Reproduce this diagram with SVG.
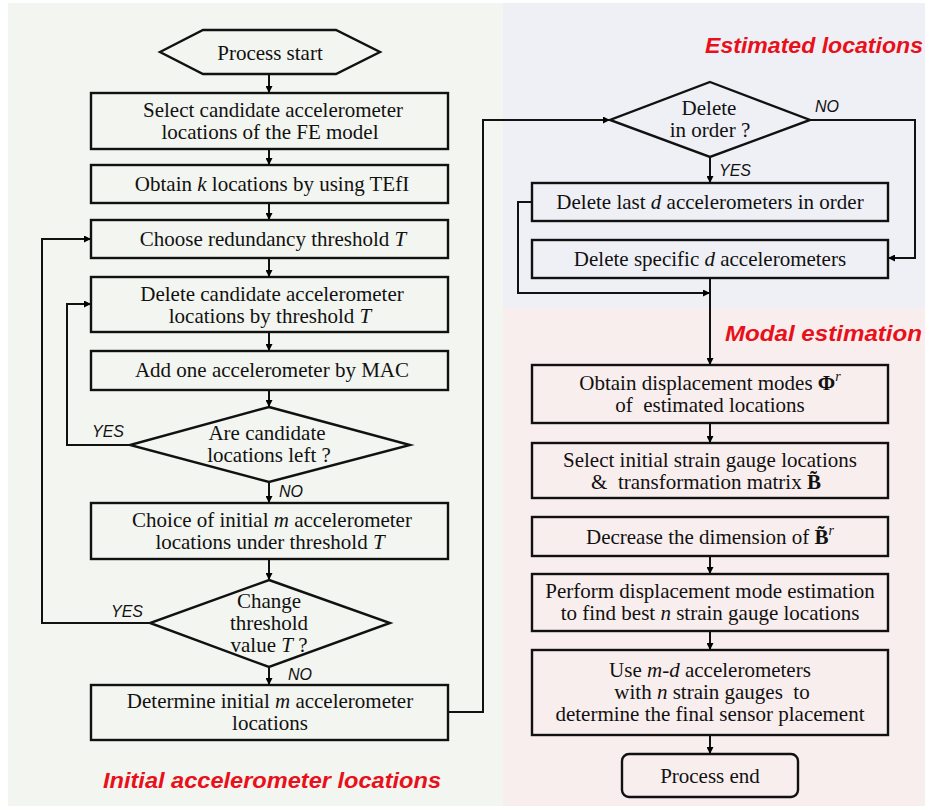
<svg xmlns="http://www.w3.org/2000/svg" width="928" height="809" viewBox="0 0 928 809">
<defs>
<marker id="ah" viewBox="0 0 10 10" refX="10" refY="5" markerWidth="7" markerHeight="7" markerUnits="userSpaceOnUse" orient="auto">
<path d="M0,0 L10,5 L0,10 z" fill="#000"/>
</marker>
<style>
.box{fill:none;stroke:#111;stroke-width:2.4}
.t{font-family:"Liberation Serif","Times New Roman",serif;font-size:21px;fill:#111;text-anchor:middle}
.i{font-style:italic}
.b{font-weight:bold}
.lab{font-family:"Liberation Sans",Arial,sans-serif;font-size:16px;font-style:italic;fill:#111}
.red{font-family:"Liberation Sans",Arial,sans-serif;font-size:22px;font-style:italic;font-weight:bold;fill:#e8101a}
.c{fill:none;stroke:#111;stroke-width:2;marker-end:url(#ah)}
</style>
</defs>
<rect width="928" height="809" fill="#ffffff"/>
<rect x="8" y="3" width="495" height="803" fill="#f3f5f0"/>
<rect x="503" y="3" width="422" height="305" fill="#eef0f6"/>
<rect x="503" y="308" width="422" height="498" fill="#f9eeee"/>

<g id="connectors">
<path class="c" d="M269,74 V93"/>
<path class="c" d="M269,149 V165"/>
<path class="c" d="M269,203 V220"/>
<path class="c" d="M269,258 V277"/>
<path class="c" d="M269,332 V351"/>
<path class="c" d="M269,390 V407"/>
<path class="c" d="M269,482 V503"/>
<path class="c" d="M269,559 V580"/>
<path class="c" d="M269,667 V685"/>
<path class="c" d="M130,445 H67 V304 H91"/>
<path class="c" d="M150,623 H42 V239 H91"/>
<path class="c" d="M448,712 H483 V120 H610"/>
<path class="c" d="M810,120 H915 V258 H888"/>
<path class="c" d="M710,157 V183"/>
<path class="c" d="M532,202 H518 V293 H710"/>
<path class="c" d="M710,278 V365"/>
<path class="c" d="M710,423 V443"/>
<path class="c" d="M710,556 V574"/>
<path class="c" d="M710,631 V650"/>
<path class="c" d="M710,735 V754"/>
<text class="lab" x="92" y="437">YES</text>
<text class="lab" x="279" y="497">NO</text>
<text class="lab" x="111" y="617">YES</text>
<text class="lab" x="288" y="680">NO</text>
<text class="lab" x="815" y="112">NO</text>
<text class="lab" x="719" y="176">YES</text>
</g>

<g id="start">
<polygon class="box" points="160,52 203,30 336,30 380,52 336,74 203,74"/>
<text class="t" x="270" y="60">Process start</text>
</g>
<g id="select-candidates">
<rect class="box" x="91" y="93" width="357" height="56"/>
<text class="t" x="273" y="117">Select candidate accelerometer</text>
<text class="t" x="270" y="139">locations of the FE model</text>
</g>
<g id="obtain-k">
<rect class="box" x="91" y="165" width="357" height="38"/>
<text class="t" x="272" y="191">Obtain <tspan class="i">k</tspan> locations by using TEfI</text>
</g>
<g id="choose-threshold">
<rect class="box" x="91" y="220" width="357" height="38"/>
<text class="t" x="273" y="246">Choose redundancy threshold <tspan class="i">T</tspan></text>
</g>
<g id="delete-candidates">
<rect class="box" x="91" y="277" width="357" height="55"/>
<text class="t" x="272" y="301">Delete candidate accelerometer</text>
<text class="t" x="270" y="323">locations by threshold <tspan class="i">T</tspan></text>
</g>
<g id="add-mac">
<rect class="box" x="91" y="351" width="357" height="39"/>
<text class="t" x="272" y="377">Add one accelerometer by MAC</text>
</g>
<g id="candidates-left">
<polygon class="box" points="269,407 410,445 269,482 130,445"/>
<text class="t" x="267" y="440">Are candidate</text>
<text class="t" x="269" y="462">locations left ?</text>
</g>
<g id="choice-initial">
<rect class="box" x="91" y="503" width="357" height="56"/>
<text class="t" x="272" y="527">Choice of initial <tspan class="i">m</tspan> accelerometer</text>
<text class="t" x="270" y="549">locations under threshold <tspan class="i">T</tspan></text>
</g>
<g id="change-threshold">
<polygon class="box" points="269,580 390,623 269,667 150,623"/>
<text class="t" x="269" y="608">Change</text>
<text class="t" x="269" y="630">threshold</text>
<text class="t" x="269" y="652">value <tspan class="i">T</tspan> ?</text>
</g>
<g id="determine-initial">
<rect class="box" x="91" y="685" width="357" height="55"/>
<text class="t" x="270" y="708">Determine initial <tspan class="i">m</tspan> accelerometer</text>
<text class="t" x="270" y="730">locations</text>
</g>
<text class="red" x="103" y="788" textLength="338" lengthAdjust="spacingAndGlyphs">Initial accelerometer locations</text>

<text class="red" x="705" y="53" textLength="218" lengthAdjust="spacingAndGlyphs">Estimated locations</text>
<g id="delete-in-order">
<polygon class="box" points="710,82 810,120 710,157 610,120"/>
<text class="t" x="709" y="115">Delete</text>
<text class="t" x="710" y="137">in order ?</text>
</g>
<g id="delete-last">
<rect class="box" x="532" y="183" width="356" height="38"/>
<text class="t" x="710" y="209">Delete last <tspan class="i">d</tspan> accelerometers in order</text>
</g>
<g id="delete-specific">
<rect class="box" x="532" y="240" width="356" height="38"/>
<text class="t" x="710" y="266">Delete specific <tspan class="i">d</tspan> accelerometers</text>
</g>

<text class="red" x="725" y="341" textLength="197" lengthAdjust="spacingAndGlyphs">Modal estimation</text>
<g id="obtain-modes">
<rect class="box" x="532" y="365" width="356" height="58"/>
<text class="t" x="710" y="390">Obtain displacement modes <tspan class="b">Φ</tspan><tspan class="i" font-size="14" dy="-9">r</tspan></text>
<text class="t" x="710" y="412">of&#160; estimated locations</text>
</g>
<g id="select-strain">
<rect class="box" x="532" y="443" width="356" height="55"/>
<text class="t" x="710" y="467">Select initial strain gauge locations</text>
<text class="t" x="706" y="489">&amp;&#160; transformation matrix <tspan class="b">B̃</tspan></text>
</g>
<g id="decrease-dimension">
<rect class="box" x="532" y="517" width="356" height="39"/>
<text class="t" x="710" y="544">Decrease the dimension of <tspan class="b">B̃</tspan><tspan class="i" font-size="14" dy="-9">r</tspan></text>
</g>
<g id="perform-estimation">
<rect class="box" x="532" y="574" width="356" height="57"/>
<text class="t" x="710" y="598">Perform displacement mode estimation</text>
<text class="t" x="710" y="620">to find best <tspan class="i">n</tspan> strain gauge locations</text>
</g>
<g id="final-placement">
<rect class="box" x="532" y="650" width="356" height="85"/>
<text class="t" x="710" y="677">Use <tspan class="i">m-d</tspan> accelerometers</text>
<text class="t" x="712" y="699">with <tspan class="i">n</tspan> strain gauges&#160; to</text>
<text class="t" x="710" y="721">determine the final sensor placement</text>
</g>
<g id="end">
<rect class="box" x="622" y="754" width="176" height="43" rx="7"/>
<text class="t" x="710" y="783">Process end</text>
</g>
</svg>
